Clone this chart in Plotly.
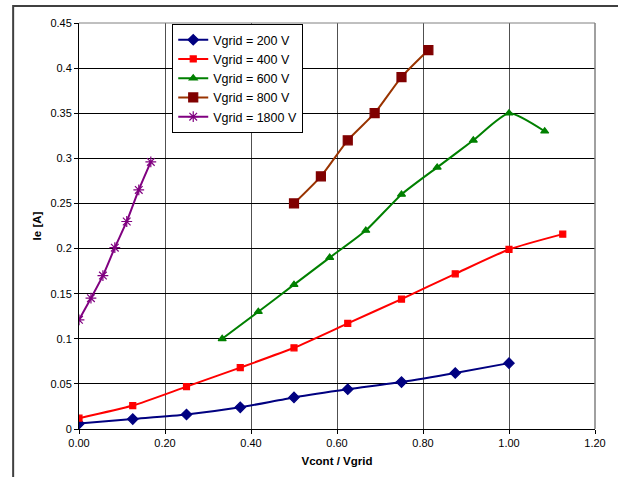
import plotly.graph_objects as go

x200 = [0, 0.125, 0.25, 0.375, 0.5, 0.625, 0.75, 0.875, 1.0]
y200 = [0.006, 0.011, 0.016, 0.024, 0.035, 0.044, 0.052, 0.062, 0.073]

x400 = [0, 0.125, 0.25, 0.375, 0.5, 0.625, 0.75, 0.875, 1.0, 1.125]
y400 = [0.012, 0.026, 0.047, 0.068, 0.090, 0.117, 0.144, 0.172, 0.199, 0.216]

x600 = [0.333, 0.417, 0.5, 0.583, 0.667, 0.75, 0.833, 0.917, 1.0, 1.083]
y600 = [0.10, 0.13, 0.16, 0.19, 0.22, 0.26, 0.29, 0.32, 0.35, 0.33]

x800 = [0.5, 0.5625, 0.625, 0.6875, 0.75, 0.8125]
y800 = [0.25, 0.28, 0.32, 0.35, 0.39, 0.42]

x1800 = [0, 0.0278, 0.0556, 0.0833, 0.111, 0.139, 0.167]
y1800 = [0.121, 0.145, 0.17, 0.201, 0.23, 0.265, 0.296]

xticks = [0, 0.2, 0.4, 0.6, 0.8, 1.0, 1.2]
xticklabels = ["0.00", "0.20", "0.40", "0.60", "0.80", "1.00", "1.20"]
yticks = [0, 0.05, 0.1, 0.15, 0.2, 0.25, 0.3, 0.35, 0.4, 0.45]
yticklabels = ["0", "0.05", "0.1", "0.15", "0.2", "0.25", "0.3", "0.35", "0.4", "0.45"]

series = [
    ("Vgrid = 200 V", x200, y200, "#000080", "#000080", "diamond", 8),
    ("Vgrid = 400 V", x400, y400, "#FF0000", "#FF0000", "square", 6),
    ("Vgrid = 600 V", x600, y600, "#008000", "#008000", "triangle-up", 7),
    ("Vgrid = 800 V", x800, y800, "#993300", "#800000", "square", 9),
    ("Vgrid = 1800 V", x1800, y1800, "#800080", "#800080", "asterisk", 9),
]

fig = go.Figure()
for name, xs, ys, lc, mc, sym, sz in series:
    fig.add_trace(go.Scatter(
        x=xs, y=ys, name=name, mode="lines+markers",
        line=dict(color=lc, width=2, shape="spline", smoothing=0.6),
        marker=dict(symbol=sym, size=sz, color=mc,
                    line=dict(color=mc, width=1.2)),
    ))

L, R, T, B = 79, 14, 23, 45
W, H = 618, 477
pw, ph = W - L - R, H - T - B

fig.update_layout(
    width=W, height=H,
    margin=dict(l=L, r=R, t=T, b=B),
    paper_bgcolor="white", plot_bgcolor="white",
    font=dict(family="Liberation Sans, Arial, sans-serif", size=11, color="black"),
    showlegend=True,
    legend=dict(
        x=(240.5 - L) / pw, y=(H - B - 79) / ph, xanchor="center", yanchor="middle",
        bgcolor="white", bordercolor="black", borderwidth=1,
        font=dict(size=12.5), tracegroupgap=0, itemwidth=30,
    ),
    xaxis=dict(
        range=[0, 1.2], tickvals=xticks, ticktext=xticklabels,
        showgrid=True, gridcolor="#505050", gridwidth=1,
        zeroline=False, showline=True, linecolor="black", linewidth=1,
        mirror=False, ticks="outside", ticklen=4, tickcolor="black",
        title=dict(text="<b>Vcont / Vgrid</b>", font=dict(size=11.5), standoff=8),
    ),
    yaxis=dict(
        range=[0, 0.45], tickvals=yticks, ticktext=yticklabels,
        showgrid=True, gridcolor="#000000", gridwidth=1,
        zeroline=False, showline=True, linecolor="black", linewidth=1,
        ticks="outside", ticklen=4, tickcolor="black",
        title=dict(text="<b>Ie [A]</b>", font=dict(size=11.5), standoff=6),
    ),
    shapes=[
        dict(type="line", xref="paper", yref="paper", x0=1, x1=1, y0=0, y1=1,
             line=dict(color="#808080", width=1.5)),
        dict(type="line", xref="paper", yref="paper", x0=0, x1=1, y0=1, y1=1,
             line=dict(color="#808080", width=1)),
        dict(type="rect", xref="paper", yref="paper",
             x0=(12 - L) / pw, x1=1.2, y0=-0.3, y1=(H - B - 6) / ph,
             line=dict(color="#404040", width=2)),
    ],
)

fig.write_html("out.html")
